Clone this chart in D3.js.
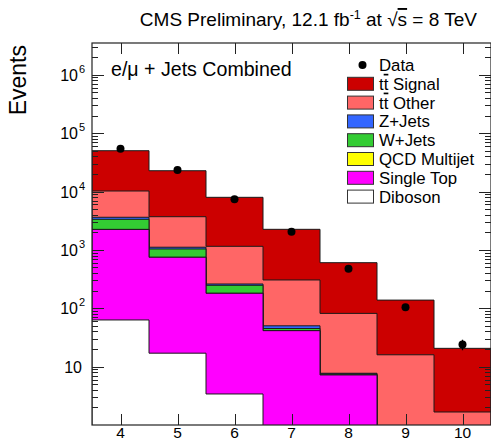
<!DOCTYPE html>
<meta charset="utf-8">
<style>
body { margin: 0; background: #fff; }
svg text { font-family: "Liberation Sans", Arial, sans-serif; fill: #000; }
.frame { fill: none; stroke: #222; stroke-width: 1.2px; }
.tick line { stroke: #222; stroke-width: 1px; shape-rendering: crispEdges; }
</style>
<body>
<script src="https://d3js.org/d3.v7.min.js"></script>
<script>
// jet multiplicity bins
var bins = [4, 5, 6, 7, 8, 9, 10];

// stacked components, bottom to top
var diboson   = [63, 17, 3.4, 0.3, 0, 0, 0];
var singleTop = [2177, 730, 177, 41, 7.2, 0.6, 0.1];
var qcd       = [0, 0, 0, 0, 0, 0, 0];
var wJets     = [1100, 289, 67, 3.7, 0.3, 0.1, 0];
var zJets     = [280, 74, 13, 5, 0.2, 0.05, 0];
var ttOther   = [6580, 2590, 890, 255, 74, 15.2, 1.57];
var ttSignal  = [39800, 19000, 6800, 1945, 522, 122, 18.9];

// observed events
var observed = [54000, 23400, 7350, 2050, 476, 104, 24];

var yMajor = [10, 1e2, 1e3, 1e4, 1e5, 1e6];

var layers = [
  {name: "Diboson", values: diboson, color: "#ffffff"},
  {name: "Single Top", values: singleTop, color: "#ff00ff"},
  {name: "QCD Multijet", values: qcd, color: "#ffff00"},
  {name: "W+Jets", values: wJets, color: "#33cc33"},
  {name: "Z+Jets", values: zJets, color: "#3366ff"},
  {name: "tt Other", values: ttOther, color: "#ff6666", tt: true, label: " Other"},
  {name: "tt Signal", values: ttSignal, color: "#cc0000", tt: true, label: " Signal"}
];

var W = 491, H = 442;
var plot = {left: 92, right: 491, top: 43, bottom: 425};

var svg = d3.select("body").append("svg")
    .attr("width", W)
    .attr("height", H);

var x = d3.scaleLinear().domain([3.5, 10.5]).range([plot.left, plot.right]);
var y = d3.scaleLog().domain([1, 3.5e6]).range([plot.bottom, plot.top]);

svg.append("clipPath").attr("id", "clip")
  .append("rect")
    .attr("x", plot.left).attr("y", plot.top)
    .attr("width", plot.right - plot.left).attr("height", plot.bottom - plot.top);

// cumulative sums
var running = bins.map(function() { return 0; });
layers.forEach(function(l) {
  l.cum = l.values.map(function(v, i) { running[i] += v; return running[i]; });
});

function stepPath(cum) {
  var pts = [[x(3.5), plot.bottom + 5]];
  bins.forEach(function(b, i) {
    var yy = y(Math.max(cum[i], 0.05));
    pts.push([x(b - 0.5), yy]);
    pts.push([x(b + 0.5), yy]);
  });
  pts.push([x(10.5), plot.bottom + 5]);
  return d3.line()(pts) + "Z";
}

var g = svg.append("g").attr("clip-path", "url(#clip)");

// draw top layer first so lower ones sit on top
layers.slice().reverse().forEach(function(l) {
  g.append("path")
    .attr("d", stepPath(l.cum))
    .attr("fill", l.color)
    .attr("stroke", "#1a1a1a")
    .attr("stroke-width", 1);
});

// data points with sqrt(N) errors
var pts = svg.append("g");
bins.forEach(function(b, i) {
  var n = observed[i], e = Math.sqrt(n);
  pts.append("line")
    .attr("x1", x(b)).attr("x2", x(b))
    .attr("y1", y(n + e)).attr("y2", y(n - e))
    .attr("stroke", "#000").attr("stroke-width", 1.3);
  pts.append("circle")
    .attr("cx", x(b)).attr("cy", y(n)).attr("r", 4)
    .attr("fill", "#000");
});

// frame
svg.append("rect").attr("class", "frame")
  .attr("x", plot.left).attr("y", plot.top)
  .attr("width", plot.right - plot.left).attr("height", plot.bottom - plot.top);

// minor log ticks
var minor = [];
for (var k = 0; k <= 6; k++) {
  for (var m = 2; m <= 9; m++) {
    var v = m * Math.pow(10, k);
    if (v < 3.5e6) minor.push(v);
  }
}

function yTicks(axisFn, tx, vals, size) {
  svg.append("g")
    .attr("class", "tick")
    .attr("transform", "translate(" + tx + ",0)")
    .call(axisFn(y).tickValues(vals).tickSize(size).tickFormat(""))
    .call(function(s) { s.select(".domain").remove(); });
}
yTicks(d3.axisRight, plot.left, yMajor, 12);
yTicks(d3.axisRight, plot.left, minor, 6);
yTicks(d3.axisLeft, plot.right, yMajor, 12);
yTicks(d3.axisLeft, plot.right, minor, 6);

function xTicks(axisFn, ty) {
  svg.append("g")
    .attr("class", "tick")
    .attr("transform", "translate(0," + ty + ")")
    .call(axisFn(x).tickValues(bins).tickSize(11).tickFormat(""))
    .call(function(s) { s.select(".domain").remove(); });
}
xTicks(d3.axisTop, plot.bottom);
xTicks(d3.axisBottom, plot.top);

// tick labels
bins.forEach(function(b) {
  svg.append("text")
    .attr("x", x(b)).attr("y", 438)
    .attr("text-anchor", "middle")
    .style("font-size", "15.5px")
    .text(b);
});

yMajor.forEach(function(v) {
  var p = Math.round(Math.log10(v));
  var t = svg.append("text")
    .attr("x", p === 1 ? 82 : 78).attr("y", y(v) + 6)
    .attr("text-anchor", "end")
    .style("font-size", "16px");
  t.append("tspan").text("10");
  if (p > 1) {
    svg.append("text")
      .attr("x", 79).attr("y", y(v) - 2)
      .style("font-size", "11px")
      .text(p);
  }
});

// axis title
svg.append("text")
  .attr("transform", "translate(26,45) rotate(-90)")
  .attr("text-anchor", "end")
  .style("font-size", "23px")
  .text("Events");

// header
var title = svg.append("text")
  .attr("x", 477).attr("y", 26)
  .attr("text-anchor", "end")
  .style("font-size", "19px");
title.append("tspan").text("CMS Preliminary, 12.1 fb");
title.append("tspan").attr("dy", -7).style("font-size", "12.5px").text("-1");
title.append("tspan").attr("dy", 7).text(" at \u221A");
title.append("tspan").style("text-decoration", "overline").text("s");
title.append("tspan").text(" = 8 TeV");

svg.append("text")
  .attr("x", 111).attr("y", 76)
  .style("font-size", "19.6px")
  .text("e/\u03BC + Jets Combined");

// legend
var lg = svg.append("g");
var rowY = function(i) { return 65 + i * 18.8; };
lg.append("circle").attr("cx", 362.5).attr("cy", rowY(0)).attr("r", 4).attr("fill", "#000");
lg.append("text").attr("x", 379).attr("y", rowY(0) + 6).style("font-size", "16.8px").text("Data");

layers.slice().reverse().forEach(function(l, j) {
  var cy = rowY(j + 1);
  lg.append("rect")
    .attr("x", 347.5).attr("y", cy - 6.5)
    .attr("width", 26).attr("height", 13)
    .attr("fill", l.color)
    .attr("stroke", "#333").attr("stroke-width", 1);
  var t = lg.append("text").attr("x", 379).attr("y", cy + 6).style("font-size", "16.8px");
  if (l.tt) {
    t.append("tspan").text("t");
    t.append("tspan").style("text-decoration", "overline").text("t");
    t.append("tspan").text(l.label);
  } else {
    t.text(l.name);
  }
});
</script>
</body>
